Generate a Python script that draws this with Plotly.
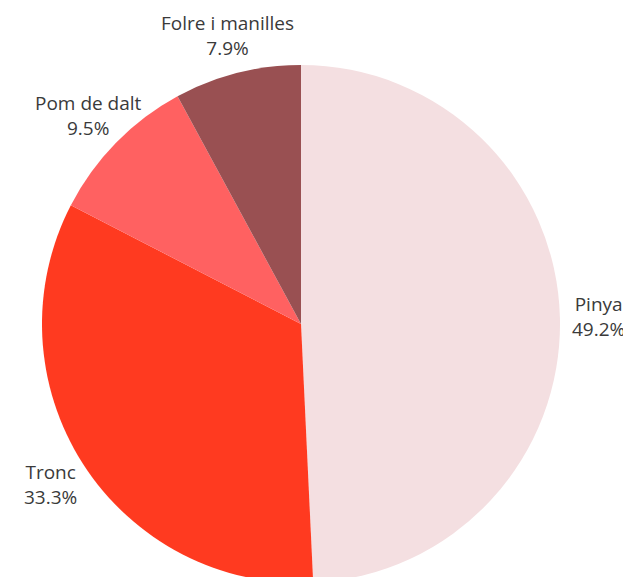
import math
import plotly.graph_objects as go

# slices, clockwise from 12 o'clock
LABELS = ["Pinya", "Tronc", "Pom de dalt", "Folre i manilles"]
SHARES = [49.2, 33.3, 9.5, 7.9]
COLORS = ["#f4dfe1", "#ff3a20", "#ff6161", "#995052"]

# page body has an 8px margin, so the figure is drawn from (8, 8)
W, H = 623, 575
ML, MR, MT, MB = 34, 71, 57, 0
LABEL_R = 1.15   # label centre distance, in pie radii

fig = go.Figure(go.Pie(
    labels=LABELS, values=SHARES, sort=False, direction="clockwise", rotation=0,
    marker=dict(colors=COLORS, line=dict(width=0)),
    textinfo="none", hoverinfo="label+percent",
    showlegend=False,
))

# outside labels, placed radially around the slice midpoints
pw, ph = W - ML - MR, H - MT - MB
r = min(pw, ph) / 2
total = sum(SHARES)
cum = 0.0
for lab, v in zip(LABELS, SHARES):
    theta = 2 * math.pi * (cum + v / 2) / total
    cum += v
    dx = LABEL_R * r * math.sin(theta)
    dy = LABEL_R * r * math.cos(theta)
    fig.add_annotation(
        x=0.5 + dx / pw, y=0.5 + dy / ph, xref="paper", yref="paper",
        text=f"{lab}<br>{v:.1f}%", showarrow=False,
        xanchor="center", yanchor="middle", align="center",
        font=dict(family="Open Sans", size=19, color="#3a3a3a"),
    )

fig.update_layout(
    width=W, height=H,
    margin=dict(l=ML, r=MR, t=MT, b=MB),
    paper_bgcolor="white",
)

fig.write_html("out.html")
